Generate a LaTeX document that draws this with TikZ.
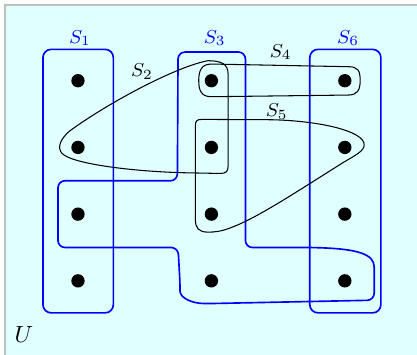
\documentclass[tikz,border=0pt]{standalone}
\definecolor{bgcyan}{RGB}{224,255,255}
\definecolor{bordergray}{RGB}{190,190,190}
\definecolor{setbluec}{RGB}{0,0,255}
\begin{document}
\begin{tikzpicture}[
  setblue/.style={draw=setbluec, line width=0.7pt},
  setblack/.style={draw=black, line width=0.45pt},
  elem/.style={circle, fill=black, inner sep=0pt, minimum size=2mm},
  bluelab/.style={text=setbluec, font=\footnotesize, anchor=base, inner sep=0pt},
  blacklab/.style={text=black, font=\footnotesize, anchor=base, inner sep=0pt}
]
\useasboundingbox (-1.169,-4.097) rectangle (5.082,1.21);
\draw[draw=bordergray, fill=bgcyan, line width=0.6pt] (-1.094,-4.4) rectangle (5.4,1.135);

% S1 and S6
\draw[setblue, rounded corners=3.5pt] (-0.525,-3.48) rectangle (0.53,0.47);
\draw[setblue, rounded corners=3.5pt] (3.475,-3.48) rectangle (4.54,0.47);

% S3
\draw[setblue, rounded corners=3pt] (1.5,0.43) -- (2.51,0.43) -- (2.51,-2.5) -- (3.48,-2.5)
  .. controls (4.2,-2.52) and (4.44,-2.6) .. (4.44,-2.9) -- (4.44,-3.29) -- (2.0,-3.34)
  .. controls (1.7,-3.34) and (1.53,-3.25) .. (1.53,-3.05) -- (1.5,-2.5) -- (-0.3,-2.5)
  -- (-0.3,-1.5) -- (1.49,-1.5) -- cycle;

% S2
\draw[setblack] (2.25,0.1) .. controls (2.25,0.25) and (2.15,0.3) .. (1.95,0.3)
  .. controls (1.5,0.22) and (0.5,-0.3) .. (-0.12,-0.75)
  .. controls (-0.3,-0.9) and (-0.32,-1.05) .. (-0.2,-1.12)
  .. controls (0,-1.25) and (0.8,-1.36) .. (1.6,-1.38)
  -- (2.13,-1.39) .. controls (2.22,-1.39) and (2.25,-1.36) .. (2.25,-1.28) -- cycle;

% S4
\draw[setblack] (2.0,0.25) -- (4.05,0.21) .. controls (4.2,0.21) and (4.23,0.15) .. (4.23,0)
  .. controls (4.23,-0.15) and (4.18,-0.215) .. (4.05,-0.215) -- (2.0,-0.24)
  .. controls (1.85,-0.24) and (1.81,-0.15) .. (1.81,0)
  .. controls (1.81,0.15) and (1.85,0.25) .. (2.0,0.25) -- cycle;

% S5
\draw[setblack] (1.86,-0.58) -- (2.9,-0.585) .. controls (3.6,-0.6) and (4.29,-0.75) .. (4.29,-0.96)
  .. controls (4.29,-1.06) and (4.15,-1.12) .. (3.97,-1.23)
  .. controls (3.3,-1.65) and (2.7,-2.05) .. (2.3,-2.2)
  .. controls (2.15,-2.26) and (2.05,-2.27) .. (1.95,-2.27)
  .. controls (1.8,-2.27) and (1.76,-2.2) .. (1.76,-2.08) -- (1.76,-0.68)
  .. controls (1.76,-0.6) and (1.78,-0.58) .. (1.86,-0.58) -- cycle;

% elements
\foreach \c in {0,1,2} {
  \foreach \r in {0,1,2,3} {
    \node[elem] (e\c\r) at (2*\c,-\r) {};
  }
}

% labels
\node[bluelab] (l1) at (0.03,0.56) {$S_1$};
\node[bluelab] (l3) at (2.05,0.56) {$S_3$};
\node[bluelab] (l6) at (4.05,0.56) {$S_6$};
\node[blacklab] (l2) at (0.96,0.06) {$S_2$};
\node[blacklab] (l4) at (3.04,0.35) {$S_4$};
\node[blacklab] (l5) at (2.98,-0.54) {$S_5$};
\node[anchor=base, inner sep=0pt] (lu) at (-0.81,-3.92) {$U$};
\end{tikzpicture}
\end{document}
